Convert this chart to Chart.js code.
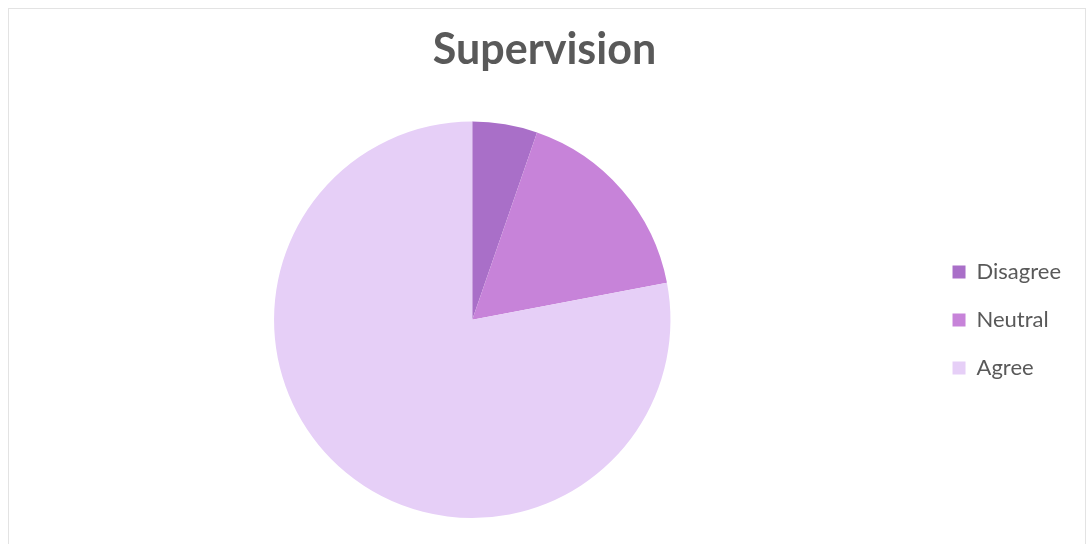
<!DOCTYPE html>
<html>
<head>
<meta charset="utf-8">
<script src="https://cdn.jsdelivr.net/npm/chart.js@4/dist/chart.umd.min.js"></script>
<style>
body{margin:0;background:#fff}
#wrap{position:relative;width:1088px;height:544px}
#frame{position:absolute;left:8px;top:8px;width:1078px;height:540px;border:1px solid #e3e3e3;box-sizing:border-box}
canvas{position:absolute;left:0;top:0}
</style>
</head>
<body>
<div id="wrap">
<div id="frame"></div>
<canvas id="chart" width="1088" height="544"></canvas>
</div>
<script>

// survey answers, share of responses (%)
const labels=["Disagree","Neutral","Agree"]
const values=[5.3,16.7,78]
const colors=["#a96fc8","#c783d9","#e6cff7"]

let ctx=document.getElementById("chart")

let chart=new Chart(ctx,{

type:"pie",

data:{
labels:labels,
datasets:[{
data:values,
backgroundColor:colors,
borderWidth:0
}]
},

options:{
responsive:false,
animation:false,
layout:{
padding:{left:18,right:17,top:0,bottom:26}
},
plugins:{
title:{
display:true,
text:"Supervision",
color:"#595959",
font:{family:"Lato",size:43,weight:"bold"},
padding:{top:24,bottom:46}
},
legend:{
position:"right",
title:{
display:true,
text:"",
font:{size:10},
padding:{top:0,bottom:110}
},
labels:{
color:"#595959",
font:{family:"Lato",size:22},
boxWidth:13,
boxHeight:13,
padding:26
}
},
tooltip:{enabled:false}
}
}

})

</script>
</body>
</html>
